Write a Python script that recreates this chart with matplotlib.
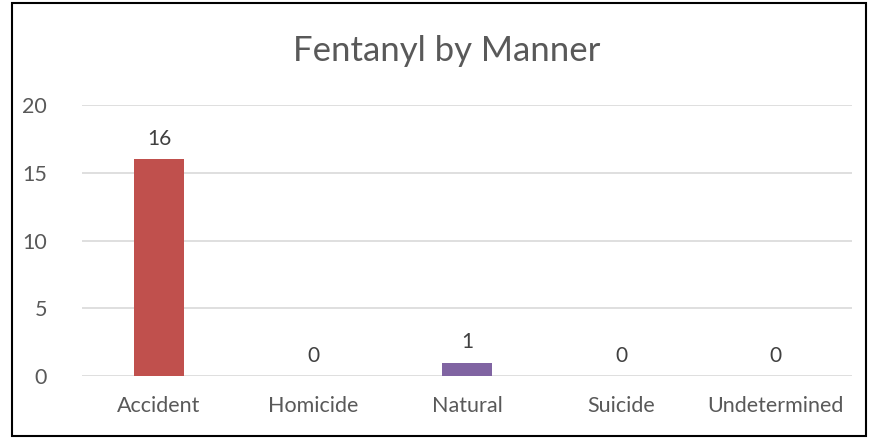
import matplotlib.pyplot as plt
from matplotlib.patches import Rectangle

categories = ["Accident", "Homicide", "Natural", "Suicide", "Undetermined"]
counts = [16, 0, 1, 0, 0]
bar_colors = ["#C0504D", "#C0504D", "#8064A2", "#C0504D", "#C0504D"]
y_ticks = [0, 5, 10, 15, 20]

plt.rcParams["font.family"] = ["Lato", "DejaVu Sans"]

fig = plt.figure(figsize=(8.72, 4.41), dpi=100)
ax = fig.add_axes([0.094, 0.147, 0.883, 0.615])

x = range(len(categories))
bars = ax.bar(x, counts, width=0.32, color=bar_colors, zorder=3)
for b, v in zip(bars, counts):
    ax.text(b.get_x() + b.get_width() / 2, v + 0.75, str(v),
            ha="center", va="bottom", fontsize=15, color="#404040")

ax.set_xlim(-0.5, len(categories) - 0.5)
ax.set_ylim(0, 20)
ax.set_yticks(y_ticks)
ax.set_xticks(list(x))
ax.set_xticklabels(categories)
ax.tick_params(length=0, labelsize=15.5, labelcolor="#595959")
ax.tick_params(axis="x", pad=14)
ax.tick_params(axis="y", pad=25)
ax.grid(axis="y", color="#D9D9D9", linewidth=1.2, zorder=0)
for s in ax.spines.values():
    s.set_visible(False)

fig.text(0.512, 0.885, "Fentanyl by Manner", ha="center", va="center",
         fontsize=25, color="#595959")

fig.patches.append(Rectangle((12 / 872, 1 - 436 / 441), 854 / 872, 433 / 441,
                             transform=fig.transFigure, fill=False,
                             edgecolor="black", linewidth=1.5))

fig.savefig("out.png", dpi=100)
